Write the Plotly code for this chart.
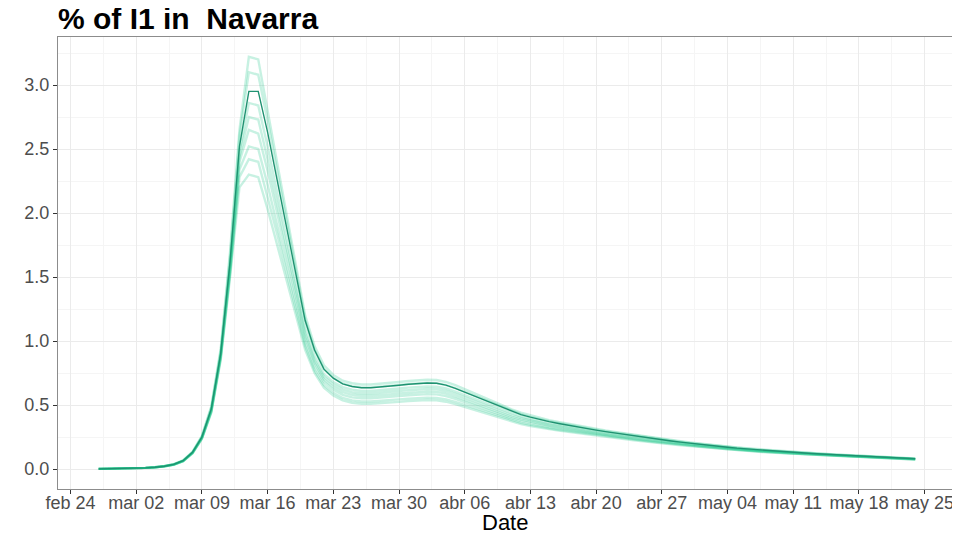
import pandas as pd
import plotly.graph_objects as go

# daily dates of the simulation (feb 27 -> may 24, 2020)
dates = pd.date_range('2020-02-27', '2020-05-24', freq='D')

# central run: % of I1 in Navarra
i1_mean = [0.001, 0.002, 0.003, 0.004, 0.006, 0.009, 0.014, 0.022, 0.036, 0.065, 0.13, 0.25, 0.47, 0.90,
           1.62, 2.52, 2.95, 2.95, 2.63, 2.27, 1.90, 1.54, 1.16, 0.93, 0.78,
           0.71, 0.665, 0.645, 0.635, 0.635, 0.64, 0.648, 0.655, 0.662, 0.668, 0.672, 0.67, 0.655,
           0.63, 0.60, 0.57, 0.54, 0.51, 0.48, 0.45, 0.425, 0.405, 0.385, 0.37, 0.356, 0.342,
           0.329, 0.316, 0.304, 0.292, 0.281, 0.27, 0.259, 0.248, 0.238, 0.228, 0.219, 0.21, 0.201,
           0.193, 0.185, 0.177, 0.17, 0.163, 0.157, 0.151, 0.145, 0.14, 0.135, 0.13, 0.125, 0.121,
           0.117, 0.113, 0.109, 0.106, 0.103, 0.099, 0.096, 0.092, 0.088, 0.084, 0.08]

# individual runs (faint lines)
run_1 = [0.001, 0.002, 0.003, 0.004, 0.006, 0.009, 0.015, 0.023, 0.038, 0.068, 0.135, 0.26, 0.49, 0.94,
         1.70, 2.65, 3.22, 3.20, 2.80, 2.40, 1.98, 1.60, 1.20, 0.96, 0.81,
         0.735, 0.69, 0.67, 0.66, 0.66, 0.665, 0.672, 0.68, 0.688, 0.694, 0.698, 0.695, 0.68,
         0.655, 0.623, 0.592, 0.56, 0.528, 0.497, 0.466, 0.44, 0.419, 0.398, 0.382, 0.367, 0.353,
         0.339, 0.326, 0.313, 0.301, 0.29, 0.279, 0.267, 0.256, 0.245, 0.235, 0.226, 0.217, 0.208,
         0.199, 0.19, 0.182, 0.175, 0.168, 0.162, 0.156, 0.15, 0.144, 0.139, 0.134, 0.129, 0.125,
         0.12, 0.116, 0.112, 0.109, 0.106, 0.102, 0.099, 0.095, 0.091, 0.087, 0.083]
run_2 = [0.001, 0.002, 0.003, 0.004, 0.006, 0.009, 0.014, 0.022, 0.037, 0.066, 0.132, 0.255, 0.48, 0.92,
         1.66, 2.60, 3.10, 3.08, 2.72, 2.33, 1.93, 1.55, 1.17, 0.93, 0.78,
         0.71, 0.668, 0.648, 0.638, 0.638, 0.643, 0.65, 0.657, 0.664, 0.67, 0.673, 0.671, 0.656,
         0.632, 0.602, 0.572, 0.542, 0.512, 0.482, 0.453, 0.428, 0.408, 0.389, 0.374, 0.36, 0.346,
         0.333, 0.32, 0.308, 0.296, 0.285, 0.274, 0.263, 0.252, 0.241, 0.231, 0.222, 0.213, 0.204,
         0.196, 0.188, 0.18, 0.172, 0.165, 0.159, 0.153, 0.147, 0.142, 0.137, 0.132, 0.127, 0.123,
         0.119, 0.115, 0.111, 0.107, 0.104, 0.1, 0.097, 0.093, 0.089, 0.085, 0.081]
run_3 = [0.001, 0.002, 0.003, 0.004, 0.006, 0.009, 0.014, 0.022, 0.036, 0.065, 0.13, 0.25, 0.47, 0.90,
         1.60, 2.48, 2.86, 2.84, 2.52, 2.16, 1.80, 1.45, 1.10, 0.88, 0.74,
         0.68, 0.64, 0.62, 0.61, 0.61, 0.615, 0.622, 0.629, 0.636, 0.641, 0.645, 0.643, 0.629,
         0.605, 0.577, 0.548, 0.519, 0.49, 0.462, 0.434, 0.41, 0.391, 0.372, 0.358, 0.345, 0.332,
         0.32, 0.308, 0.297, 0.286, 0.275, 0.265, 0.254, 0.244, 0.234, 0.224, 0.215, 0.207, 0.198,
         0.19, 0.182, 0.174, 0.167, 0.16, 0.154, 0.148, 0.143, 0.138, 0.133, 0.128, 0.123, 0.119,
         0.115, 0.111, 0.107, 0.104, 0.101, 0.098, 0.095, 0.091, 0.087, 0.083, 0.079]
run_4 = [0.001, 0.002, 0.003, 0.004, 0.006, 0.009, 0.014, 0.021, 0.035, 0.064, 0.128, 0.245, 0.46, 0.89,
         1.58, 2.44, 2.75, 2.73, 2.42, 2.08, 1.73, 1.40, 1.06, 0.85, 0.72,
         0.66, 0.62, 0.60, 0.59, 0.59, 0.595, 0.602, 0.609, 0.616, 0.621, 0.625, 0.623, 0.61,
         0.587, 0.559, 0.531, 0.503, 0.475, 0.448, 0.421, 0.398, 0.38, 0.362, 0.348, 0.336, 0.323,
         0.311, 0.3, 0.289, 0.278, 0.268, 0.258, 0.248, 0.238, 0.228, 0.219, 0.21, 0.202, 0.194,
         0.186, 0.178, 0.171, 0.164, 0.157, 0.151, 0.145, 0.14, 0.135, 0.13, 0.125, 0.121, 0.117,
         0.113, 0.109, 0.105, 0.102, 0.099, 0.096, 0.093, 0.089, 0.086, 0.082, 0.078]
run_5 = [0.001, 0.002, 0.003, 0.004, 0.006, 0.009, 0.014, 0.021, 0.035, 0.063, 0.127, 0.243, 0.455, 0.88,
         1.56, 2.40, 2.65, 2.62, 2.33, 2.00, 1.67, 1.35, 1.03, 0.83, 0.70,
         0.64, 0.60, 0.58, 0.572, 0.572, 0.576, 0.583, 0.59, 0.596, 0.601, 0.605, 0.603, 0.59,
         0.568, 0.541, 0.514, 0.487, 0.46, 0.434, 0.408, 0.386, 0.368, 0.351, 0.338, 0.326, 0.314,
         0.302, 0.291, 0.28, 0.27, 0.26, 0.25, 0.24, 0.231, 0.222, 0.213, 0.205, 0.197, 0.189,
         0.181, 0.174, 0.167, 0.16, 0.154, 0.148, 0.142, 0.137, 0.132, 0.127, 0.123, 0.119, 0.115,
         0.111, 0.107, 0.104, 0.101, 0.098, 0.095, 0.092, 0.088, 0.085, 0.081, 0.077]
run_6 = [0.001, 0.002, 0.003, 0.004, 0.006, 0.009, 0.013, 0.021, 0.034, 0.062, 0.125, 0.24, 0.45, 0.87,
         1.54, 2.34, 2.52, 2.50, 2.22, 1.91, 1.60, 1.30, 0.99, 0.80, 0.68,
         0.62, 0.58, 0.56, 0.553, 0.553, 0.557, 0.563, 0.57, 0.576, 0.581, 0.585, 0.583, 0.57,
         0.549, 0.523, 0.497, 0.471, 0.445, 0.42, 0.395, 0.374, 0.357, 0.341, 0.328, 0.317, 0.306,
         0.295, 0.284, 0.274, 0.264, 0.254, 0.245, 0.235, 0.226, 0.217, 0.209, 0.201, 0.193, 0.185,
         0.178, 0.171, 0.164, 0.157, 0.151, 0.145, 0.14, 0.135, 0.13, 0.125, 0.121, 0.117, 0.113,
         0.109, 0.106, 0.103, 0.1, 0.097, 0.094, 0.091, 0.087, 0.084, 0.08, 0.076]
run_7 = [0.001, 0.002, 0.003, 0.004, 0.006, 0.009, 0.013, 0.021, 0.034, 0.062, 0.124, 0.238, 0.445, 0.86,
         1.52, 2.28, 2.42, 2.40, 2.13, 1.84, 1.54, 1.25, 0.96, 0.77, 0.655,
         0.595, 0.555, 0.536, 0.528, 0.528, 0.532, 0.538, 0.544, 0.55, 0.555, 0.558, 0.556, 0.544,
         0.524, 0.5, 0.476, 0.452, 0.428, 0.404, 0.381, 0.361, 0.345, 0.33, 0.318, 0.307, 0.297,
         0.287, 0.277, 0.267, 0.257, 0.248, 0.239, 0.23, 0.221, 0.212, 0.204, 0.196, 0.189, 0.182,
         0.175, 0.168, 0.161, 0.155, 0.149, 0.143, 0.138, 0.133, 0.128, 0.124, 0.12, 0.116, 0.112,
         0.108, 0.104, 0.101, 0.098, 0.095, 0.092, 0.089, 0.086, 0.083, 0.079, 0.075]
run_8 = [0.001, 0.002, 0.003, 0.004, 0.006, 0.009, 0.013, 0.02, 0.033, 0.061, 0.122, 0.235, 0.44, 0.85,
         1.50, 2.20, 2.30, 2.28, 2.03, 1.76, 1.48, 1.20, 0.93, 0.75, 0.635,
         0.575, 0.537, 0.518, 0.51, 0.51, 0.513, 0.519, 0.525, 0.531, 0.536, 0.539, 0.537, 0.526,
         0.507, 0.484, 0.461, 0.438, 0.415, 0.392, 0.37, 0.351, 0.336, 0.322, 0.31, 0.3, 0.29,
         0.28, 0.27, 0.261, 0.252, 0.243, 0.234, 0.225, 0.217, 0.208, 0.2, 0.193, 0.186, 0.179,
         0.172, 0.165, 0.159, 0.153, 0.147, 0.141, 0.136, 0.131, 0.127, 0.122, 0.118, 0.114, 0.11,
         0.106, 0.103, 0.1, 0.097, 0.094, 0.091, 0.088, 0.085, 0.082, 0.078, 0.074]

runs = [run_1, run_2, run_3, run_4, run_5, run_6, run_7, run_8]

# axis ticks
x_tick_dates = ['2020-02-24', '2020-03-02', '2020-03-09', '2020-03-16', '2020-03-23', '2020-03-30',
                '2020-04-06', '2020-04-13', '2020-04-20', '2020-04-27', '2020-05-04', '2020-05-11',
                '2020-05-18', '2020-05-25']
x_tick_labels = ['feb 24', 'mar 02', 'mar 09', 'mar 16', 'mar 23', 'mar 30', 'abr 06', 'abr 13',
                 'abr 20', 'abr 27', 'may 04', 'may 11', 'may 18', 'may 25']
y_ticks = [0.0, 0.5, 1.0, 1.5, 2.0, 2.5, 3.0]

font_fam = 'Liberation Sans, Arial, sans-serif'

fig = go.Figure()
for r in runs:
    fig.add_trace(go.Scatter(x=dates, y=r, mode='lines',
                             line=dict(color='rgba(0,191,125,0.22)', width=2.4),
                             showlegend=False, hoverinfo='skip'))
fig.add_trace(go.Scatter(x=dates, y=i1_mean, mode='lines',
                         line=dict(color='#1F9271', width=1.4), showlegend=False))

# the page body has an 8px margin, so the figure is 8px smaller than the window
fig.update_layout(
    width=952, height=532,
    margin=dict(l=50, r=8, t=29, b=51),
    paper_bgcolor='white', plot_bgcolor='white',
    font=dict(family=font_fam, color='#4D4D4D', size=18),
    title=dict(text='<b>% of I1 in\u00a0 Navarra</b>', x=50 / 952, xanchor='left',
               y=1 - 21 / 532, yanchor='bottom',
               font=dict(size=30, color='black', family=font_fam)),
    annotations=[dict(text='Date', xref='paper', yref='paper', x=0.5, y=-33 / 452,
                      xanchor='center', yanchor='middle', showarrow=False,
                      font=dict(size=22, color='black', family=font_fam))],
)

axis_common = dict(showline=True, mirror=True, linecolor='#8C8C8C', linewidth=1,
                   ticks='outside', ticklen=4, tickcolor='#333333', tickwidth=1,
                   gridcolor='#EBEBEB', gridwidth=1, zeroline=False, automargin=False)

fig.update_xaxes(range=['2020-02-22 16:00', '2020-05-27 22:00'],
                 tickmode='array', tickvals=x_tick_dates, ticktext=x_tick_labels,
                 minor=dict(showgrid=True, gridcolor='#F5F5F5', gridwidth=1,
                            dtick=7 * 86400000, tick0='2020-02-20 12:00'),
                 tickfont=dict(size=18, color='#4D4D4D'), ticklabelstandoff=-7,
                 **axis_common)
fig.update_yaxes(range=[-0.156, 3.375],
                 tickmode='array', tickvals=y_ticks, tickformat='.1f',
                 minor=dict(showgrid=True, gridcolor='#F5F5F5', gridwidth=1,
                            dtick=0.5, tick0=0.25),
                 tickfont=dict(size=18, color='#4D4D4D'),
                 **axis_common)

fig.write_html('out.html')
